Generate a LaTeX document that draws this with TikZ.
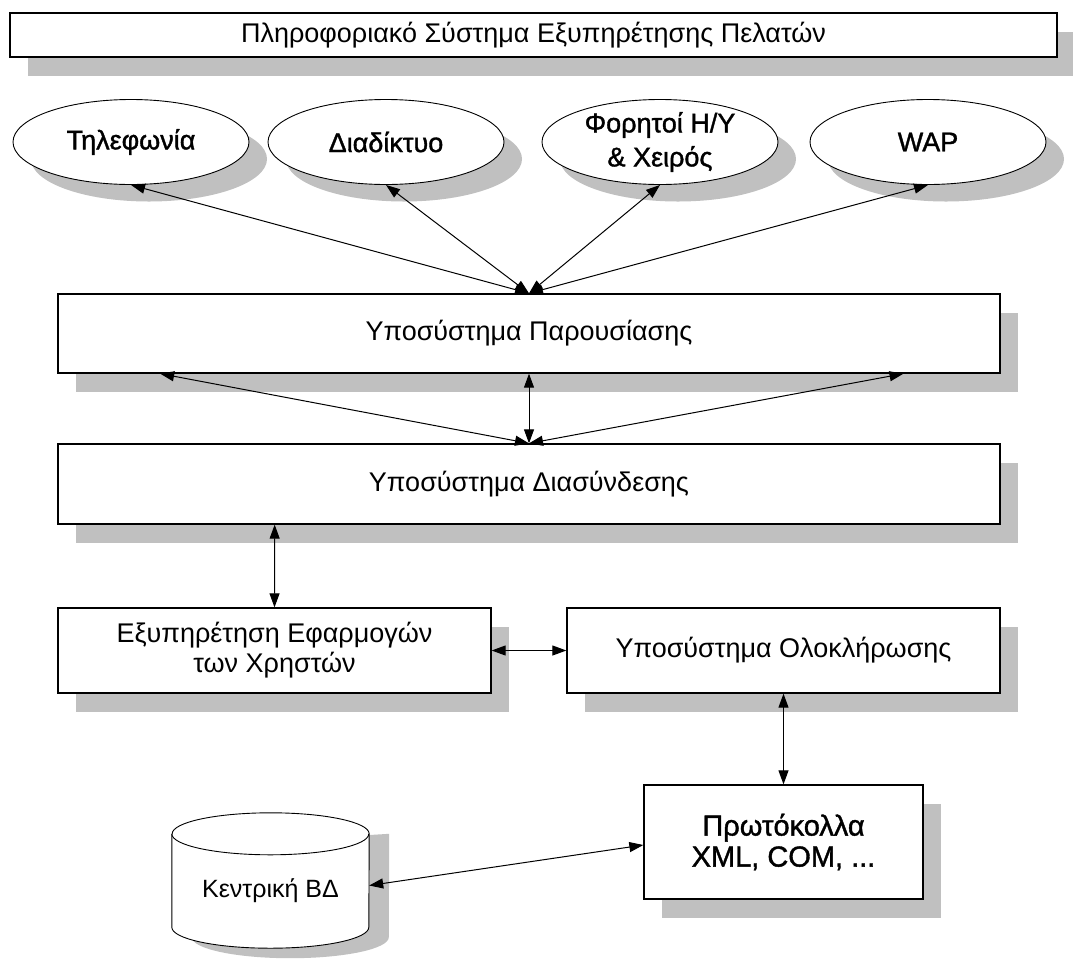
\documentclass[tikz,border=0pt]{standalone}
\usepackage{fontspec}
\setmainfont{Liberation Sans}
\newfontfamily\mediumface[FakeBold=1.3]{Liberation Sans}
\usetikzlibrary{shapes.geometric,shadows,arrows.meta,calc}
\definecolor{shadowgray}{RGB}{192,192,192}
\begin{document}
\begin{tikzpicture}[x=1pt,y=-1pt,
  boxshadow/.style={general shadow={fill=shadowgray, draw=none, shadow xshift=18pt, shadow yshift=-19pt}},
  box/.style={draw, line width=1.3pt, fill=white, rectangle, inner sep=0pt, align=center,
    boxshadow, font=\fontsize{27}{30}\selectfont},
  channel/.style={draw, ellipse, line width=0.9pt, fill=white, inner sep=0pt, align=center,
    minimum width=236pt, minimum height=85pt,
    general shadow={fill=shadowgray, draw=none, shadow xshift=18pt, shadow yshift=-17pt},
    font=\fontsize{27}{34}\selectfont\mediumface},
  link/.style={{Triangle[length=14pt,width=10pt]}-{Triangle[length=14pt,width=10pt]}, line width=1pt},
]
\useasboundingbox[fill=white] (0,0) rectangle (1073,959);

% title bar
\node[box] (title) [minimum width=1047pt, minimum height=44pt] at (533.5,35)
  {Πληροφοριακό Σύστημα Εξυπηρέτησης Πελατών};

% access channels
\node[channel] (tel) at (131,142) {Τηλεφωνία};
\node[channel] (web) at (386,142) {Διαδίκτυο};
\node[channel] (mob) at (660,142) {Φορητοί Η/Υ\\\& Χειρός};
\node[channel] (wap) at (928,142) {WAP};

% subsystems
\node[box, minimum width=942pt, minimum height=79pt] (pres) at (529,333.5) {Υποσύστημα Παρουσίασης};
\node[box, minimum width=942pt, minimum height=80pt] (inter) at (529,484) {Υποσύστημα Διασύνδεσης};
\node[box, minimum width=433pt, minimum height=85pt] (apps) at (274.5,650.5) {Εξυπηρέτηση Εφαρμογών\\των Χρηστών};
\node[box, minimum width=433pt, minimum height=85pt] (integ) at (783.5,650.5) {Υποσύστημα Ολοκλήρωσης};
\node[box, minimum width=279pt, minimum height=114pt, font=\fontsize{29}{31}\selectfont\mediumface]
  (proto) at (783.5,842) {Πρωτόκολλα\\XML, COM, ...};

% central database (cylinder)
\node[minimum width=197pt, minimum height=135pt, inner sep=0pt] (db) at (270.5,880.5) {};
\fill[shadowgray] ($(db.north west)+(20,33)$) -- ($(db.south west)+(20,-11)$)
  arc[start angle=180, end angle=360, x radius=98.5, y radius=-21]
  -- ($(db.north east)+(20,21)$) -- cycle;
\filldraw[fill=white, line width=0.9pt] ($(db.north west)+(0,21)$) -- ($(db.south west)+(0,-21)$)
  arc[start angle=180, end angle=360, x radius=98.5, y radius=-21]
  -- ($(db.north east)+(0,21)$)
  arc[start angle=0, end angle=180, x radius=98.5, y radius=-21];
\draw[line width=0.9pt] ($(db.north west)+(0,21)$)
  arc[start angle=180, end angle=360, x radius=98.5, y radius=-21];
\node[font=\fontsize{25}{28}\selectfont] at ($(db.center)+(0,10)$) {Κεντρική ΒΔ};

% connectors
\foreach \n in {tel,web,mob,wap} \draw[link] (\n.south) -- (pres.north);
\draw[link] ($(pres.south west)!0.109!(pres.south east)$) -- (inter.north);
\draw[link] (pres.south) -- (inter.north);
\draw[link] ($(pres.south west)!0.897!(pres.south east)$) -- (inter.north);
\draw[link] ($(inter.south west)!0.2304!(inter.south east)$) -- (apps.north);
\draw[link] (apps.east) -- (integ.west);
\draw[link] (integ.south) -- (proto.north);
\draw[link] ([yshift=-5pt]db.east) -- ([yshift=-3pt]proto.west);
\end{tikzpicture}
\end{document}
